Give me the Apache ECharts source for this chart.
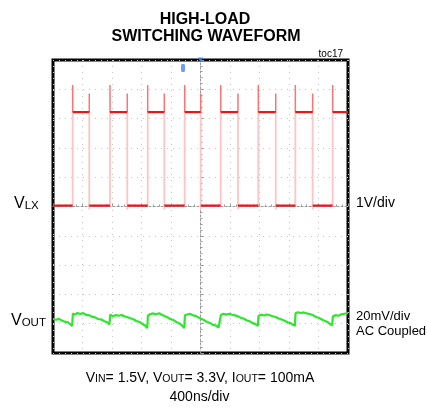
<!DOCTYPE html>
<html><head><meta charset="utf-8">
<script src="https://cdn.jsdelivr.net/npm/echarts@6/dist/echarts.min.js"></script>
<style>html,body{margin:0;padding:0;background:#fff}#c{width:427px;height:411px}</style>
</head><body><div id="c"></div><script>
// ---- axes (oscilloscope: 400ns/div horizontally, trigger at t = 0) ----
const TIME_MIN = -2000, TIME_MAX = 2000, TIME_DIV = 400;      // ns
const VLX_MIN = -5, VLX_MAX = 5, VLX_DIV = 1;                  // V (1V/div)
const VOUT_MV_PER_DIV = 20;                                    // mV/div, AC coupled
const VOUT_ZERO_DIV = -3.88;                                   // channel-2 ground position (divisions)

// ---- VLX switching node (channel 1) ----
const vlxRise = [-1733, -1227, -716, -214, 274, 784, 1286, 1792];  // ns
const vlxFall = [-1508, -993, -491, 3, 508, 1020, 1521];           // ns
const vlxLow = 0.03, vlxHigh = 3.22;                               // V
const vlxRiseSpike = 4.15, vlxFallSpike = 3.86, vlxFallUnder = -0.1; // V

// ---- VOUT ripple (channel 2, mV, AC coupled) ----
const voutRipple = [
 [-2000,0.8],[-1960,0.3],[-1920,0.9],[-1880,-0.2],[-1840,-1.0],[-1800,-1.4],[-1770,-2.6],[-1740,-3.9],
 [-1731,4.6],[-1700,3.8],[-1670,4.9],[-1630,4.2],[-1590,4.8],[-1550,3.6],[-1510,3.3],[-1470,2.4],[-1430,1.9],[-1390,0.8],[-1350,0.6],[-1310,-0.6],[-1270,-1.4],[-1235,-2.8],
 [-1224,3.8],[-1190,2.8],[-1150,3.4],[-1110,3.0],[-1070,3.5],[-1030,2.6],[-990,2.0],[-950,1.3],[-910,0.6],[-870,-0.6],[-830,-1.1],[-790,-2.4],[-750,-3.6],[-722,-5.4],
 [-713,3.2],[-680,4.2],[-640,4.6],[-600,4.0],[-560,4.7],[-520,3.6],[-485,2.8],[-445,1.9],[-405,0.6],[-365,0.1],[-325,-1.4],[-285,-2.2],[-245,-3.9],[-220,-5.4],
 [-211,3.4],[-180,3.9],[-140,4.3],[-100,3.3],[-60,2.8],[-20,1.6],[5,0.8],[45,0.2],[85,-1.2],[125,-1.8],[165,-3.0],[205,-3.6],[245,-5.0],[268,-6.0],
 [277,3.6],[310,4.4],[350,3.8],[390,4.3],[430,3.7],[470,3.3],[510,2.6],[550,1.6],[590,1.0],[630,-0.2],[670,-0.8],[710,-2.0],[750,-2.8],[778,-3.9],
 [787,2.9],[820,3.8],[860,3.2],[900,3.9],[940,3.4],[980,2.7],[1020,2.2],[1060,1.2],[1100,0.5],[1140,-0.4],[1180,-1.4],[1220,-2.0],[1250,-3.0],[1280,-3.9],
 [1289,4.8],[1320,5.4],[1360,4.9],[1400,5.3],[1440,4.6],[1480,4.2],[1520,3.5],[1560,2.4],[1600,1.6],[1640,0.6],[1680,-0.4],[1720,-1.2],[1750,-2.4],[1786,-3.4],
 [1795,2.6],[1830,3.4],[1870,3.0],[1910,4.0],[1950,4.4],[2000,4.8]
];

// ---- scope markers ----
const refMarker = [[-237, 4.73]];   // channel reference marker (blue)
const trigMarker = [[0, 5]];        // trigger position

// ---- texts ----
const titleLines = ['HIGH-LOAD', 'SWITCHING WAVEFORM'];
const tocLabel = 'toc17';
const ch1Scale = '1V/div';
const ch2Scale = ['20mV/div', 'AC Coupled'];
const timeScale = '400ns/div';

// ---- build trace segments from the edge times ----
const GAP = '-';
const levels = [[TIME_MIN, vlxLow], [vlxRise[0], vlxLow], [vlxRise[0], GAP]];
vlxRise.forEach((r, i) => {
  const f = i < vlxFall.length ? vlxFall[i] : TIME_MAX;
  levels.push([r, vlxHigh], [f, vlxHigh], [f, GAP]);
  if (i < vlxFall.length) {
    const nr = i + 1 < vlxRise.length ? vlxRise[i + 1] : TIME_MAX;
    levels.push([f, vlxLow], [nr, vlxLow], [nr, GAP]);
  }
});
const edges = [], spikes = [];
vlxRise.forEach(r => {
  edges.push([r, vlxLow], [r, vlxHigh], [r, GAP]);
  spikes.push([r, vlxHigh], [r, vlxRiseSpike], [r, GAP]);
});
vlxFall.forEach(f => {
  edges.push([f, vlxHigh], [f, vlxFallUnder], [f, GAP]);
  spikes.push([f, vlxHigh], [f, vlxFallSpike], [f, GAP]);
});

const F = '"Liberation Sans", Arial, Helvetica, sans-serif';

function txt(text, x, y, size, opts) {
  opts = opts || {};
  return {
    type: 'text', x: x, y: y, silent: true, z: 100,
    style: Object.assign({
      text: text, fontFamily: F, fontSize: size, fontWeight: opts.weight || 'normal',
      fill: '#000', align: opts.align || 'left', textAlign: opts.align || 'left',
      verticalAlign: 'middle', textVerticalAlign: 'middle'
    }, opts.rich ? { rich: opts.rich, verticalAlign: 'top', textVerticalAlign: 'top' } : {})
  };
}
const richBottom = {
  m: { fontFamily: F, fontSize: 14, lineHeight: 18, verticalAlign: 'bottom', fill: '#000' },
  s: { fontFamily: F, fontSize: 10.5, lineHeight: 8, verticalAlign: 'bottom', fill: '#000' }
};
const richLabel = {
  m: { fontFamily: F, fontSize: 16, lineHeight: 22, verticalAlign: 'bottom', fill: '#000' },
  s: { fontFamily: F, fontSize: 11.5, lineHeight: 11, verticalAlign: 'bottom', fill: '#000' }
};

const chart = echarts.init(document.getElementById('c'), null, { renderer: 'canvas' });
chart.setOption({
  animation: false,
  backgroundColor: '#fff',
  grid: { left: 53, top: 60, width: 295, height: 293, show: true, borderColor: '#000', borderWidth: 3, backgroundColor: 'transparent' },
  xAxis: {
    type: 'value', min: TIME_MIN, max: TIME_MAX, interval: TIME_DIV,
    axisLabel: { show: false },
    axisLine: { show: true, onZero: true, lineStyle: { color: '#9a9a9a', type: [2, 2], width: 1 } },
    axisTick: { show: true, inside: true, length: 3, lineStyle: { color: '#9a9a9a' } },
    minorTick: { show: true, splitNumber: 5, length: 2, lineStyle: { color: '#9a9a9a' } },
    splitLine: { show: true, lineStyle: { color: '#c4c4c4', type: [1, 5], width: 1 } }
  },
  yAxis: [{
    type: 'value', min: VLX_MIN, max: VLX_MAX, interval: VLX_DIV,
    axisLabel: { show: false },
    axisLine: { show: true, onZero: true, lineStyle: { color: '#9a9a9a', type: [2, 2], width: 1 } },
    axisTick: { show: true, inside: true, length: 3, lineStyle: { color: '#9a9a9a' } },
    minorTick: { show: true, splitNumber: 5, length: 2, lineStyle: { color: '#9a9a9a' } },
    splitLine: { show: true, lineStyle: { color: '#c4c4c4', type: [1, 5], width: 1 } }
  }, {
    type: 'value', show: false,
    min: (VLX_MIN - VOUT_ZERO_DIV) * VOUT_MV_PER_DIV,
    max: (VLX_MAX - VOUT_ZERO_DIV) * VOUT_MV_PER_DIV,
    splitLine: { show: false }
  }],
  series: [
    { type: 'line', name: 'edges', data: edges, yAxisIndex: 0, showSymbol: false, symbol: 'none', connectNulls: false,
      lineStyle: { color: '#ffc4c4', width: 1.8 }, z: 3 },
    { type: 'line', name: 'spikes', data: spikes, yAxisIndex: 0, showSymbol: false, symbol: 'none', connectNulls: false,
      lineStyle: { color: '#ff7272', width: 1.5 }, z: 4 },
    { type: 'line', name: 'VLX', data: levels, yAxisIndex: 0, showSymbol: false, symbol: 'none', connectNulls: false,
      lineStyle: { color: '#e81818', width: 2.4 }, z: 5 },
    { type: 'line', name: 'VOUT', data: voutRipple, yAxisIndex: 1, showSymbol: false, symbol: 'none',
      lineStyle: { color: '#2ee62e', width: 2.2 }, z: 5 },
    { type: 'scatter', data: refMarker, yAxisIndex: 0, symbol: 'roundRect', symbolSize: [4, 8],
      itemStyle: { color: '#4a86f0' }, z: 6, silent: true },
    { type: 'scatter', data: trigMarker, yAxisIndex: 0, symbol: 'triangle', symbolRotate: 180, symbolSize: [6, 5],
      itemStyle: { color: '#3b78e8' }, z: 6, silent: true }
  ],
  graphic: [
    txt(titleLines[0], 205, 19.5, 16, { weight: 'bold', align: 'center' }),
    txt(titleLines[1], 206, 36.5, 16, { weight: 'bold', align: 'center' }),
    txt(tocLabel, 343, 54, 10, { align: 'right' }),
    txt('{m|V}{s|LX}', 14, 190, 16, { rich: richLabel }),
    txt('{m|V}{s|OUT}', 11, 306.5, 16, { rich: richLabel }),
    txt(ch1Scale, 356, 203.5, 14),
    txt(ch2Scale[0], 356, 316.5, 13),
    txt(ch2Scale[1], 356, 331, 13),
    txt('{m|V}{s|IN}{m|= 1.5V, V}{s|OUT}{m|= 3.3V, I}{s|OUT}{m|= 100mA}', 200, 367, 14, { rich: richBottom, align: 'center' }),
    txt(timeScale, 199.5, 397, 14, { align: 'center' })
  ]
});
</script></body></html>
